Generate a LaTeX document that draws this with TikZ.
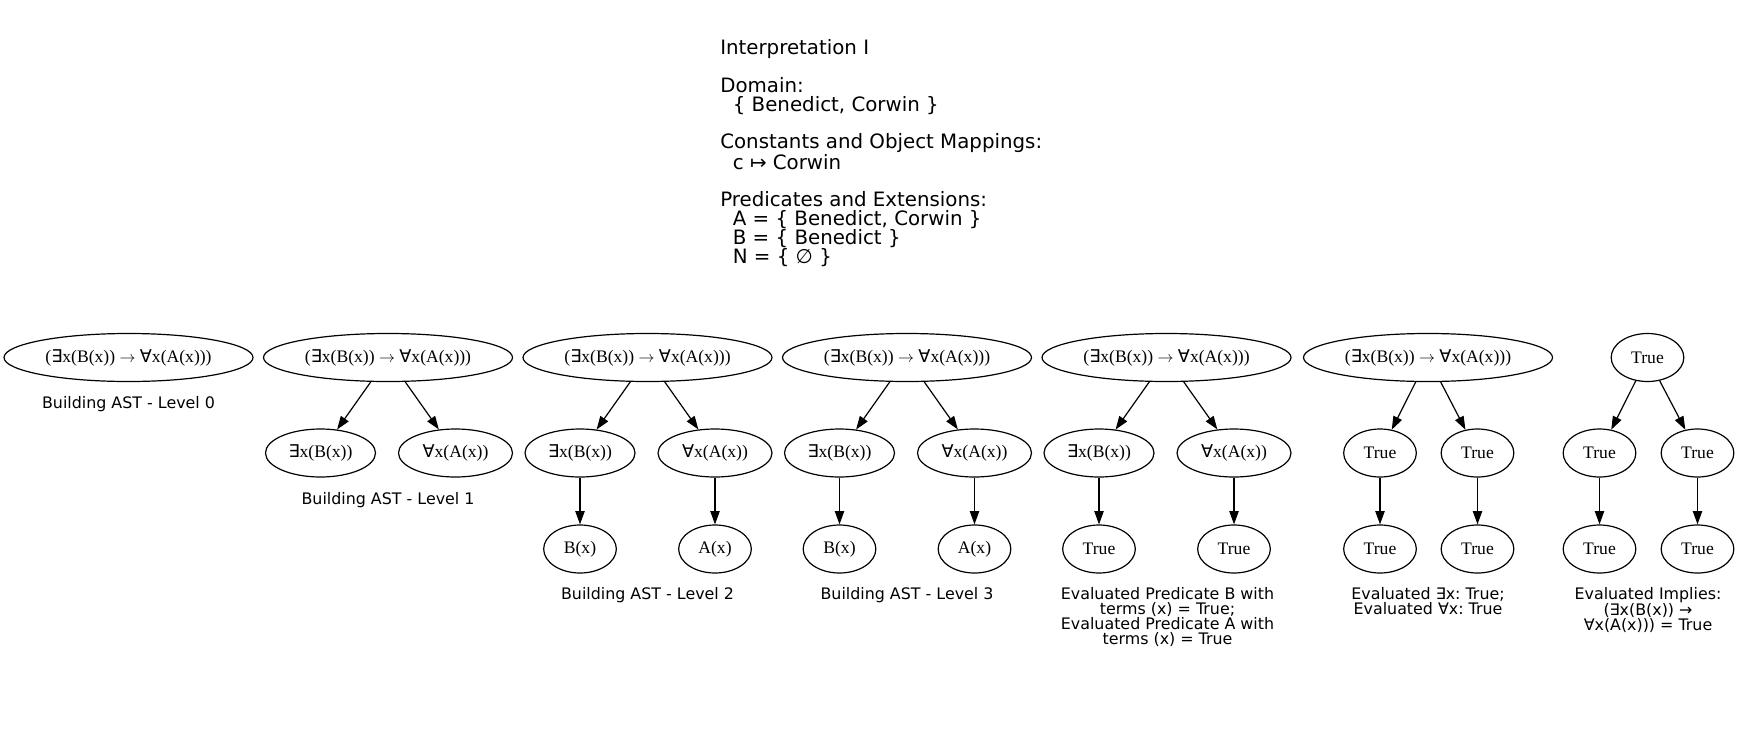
\documentclass[tikz,border=0pt]{standalone}
\usepackage{fontspec}
\setmainfont{DejaVu Sans}
\newfontfamily\astfont{Liberation Serif}
\newfontfamily\qfont{DejaVu Sans}
\usetikzlibrary{shapes.geometric,arrows.meta}
\frenchspacing
\def\Ex{{\qfont ∃}}
\def\All{{\qfont ∀}}
\def\Imp{(\Ex x(B(x)) $\rightarrow$ \All x(A(x)))}
\tikzset{
	ast/.style={ellipse, draw, line width=0.9pt, inner sep=0pt, minimum height=36pt, font=\astfont\fontsize{13.2}{15}\selectfont},
	rootbox/.style={ast, minimum width=186.75pt},
	midbox/.style={ast, minimum width=82.5pt},
	allbox/.style={ast, minimum width=85.5pt},
	leafbox/.style={ast, minimum width=54.5pt},
	lvl/.style={anchor=north, align=center, inner sep=0pt, font=\fontsize{11.9}{11.25}\selectfont},
	astarrow/.style={-{Triangle[length=10pt,width=7pt]}, line width=0.9pt}
}

\begin{document}
\begin{tikzpicture}[x=0.75pt, y=-0.75pt]
			%%%%% START %%%%%
			\useasboundingbox (0, 0) rectangle (1739, 739);
			
			\node[anchor=north west, align=left, inner sep=0pt, font=\fontsize{14.85}{14.1}\selectfont] (interp) at (720, 39.5)
			{Interpretation I\\ \\Domain:\\\ \ \{ Benedict, Corwin \}\\ \\Constants and Object Mappings:\\\ \ c ↦ Corwin\\ \\Predicates and Extensions:\\\ \ A = \{ Benedict, Corwin \}\\\ \ B = \{ Benedict \}\\\ \ N = \{ ∅ \}};
			
			% level 0
			\node[rootbox] (t0r) at (128.5, 357.5) {\Imp};
			\node[lvl] (t0lab) at (128.5, 395.7) {Building AST - Level 0};
			
			% level 1
			\node[rootbox] (t1r) at (388, 357.5) {\Imp};
			\node[midbox] (t1a) at (320.5, 453) {\Ex x(B(x))};
			\node[allbox] (t1b) at (455.5, 453) {\All x(A(x))};
			\draw[astarrow] (t1r) -- (t1a);
			\draw[astarrow] (t1r) -- (t1b);
			\node[lvl] (t1lab) at (388, 491.7) {Building AST - Level 1};
			
			% level 2
			\node[rootbox] (t2r) at (647.5, 357.5) {\Imp};
			\node[midbox] (t2a) at (580, 453) {\Ex x(B(x))};
			\node[allbox] (t2b) at (715, 453) {\All x(A(x))};
			\node[leafbox] (t2aa) at (580, 549) {B(x)};
			\node[leafbox] (t2bb) at (715, 549) {A(x)};
			\draw[astarrow] (t2r) -- (t2a);
			\draw[astarrow] (t2r) -- (t2b);
			\draw[astarrow] (t2a) -- (t2aa);
			\draw[astarrow] (t2b) -- (t2bb);
			\node[lvl] (t2lab) at (647.5, 586.7) {Building AST - Level 2};
			
			% level 3
			\node[rootbox] (t3r) at (907, 357.5) {\Imp};
			\node[midbox] (t3a) at (839.5, 453) {\Ex x(B(x))};
			\node[allbox] (t3b) at (974.5, 453) {\All x(A(x))};
			\node[leafbox] (t3aa) at (839.5, 549) {B(x)};
			\node[leafbox] (t3bb) at (974.5, 549) {A(x)};
			\draw[astarrow] (t3r) -- (t3a);
			\draw[astarrow] (t3r) -- (t3b);
			\draw[astarrow] (t3a) -- (t3aa);
			\draw[astarrow] (t3b) -- (t3bb);
			\node[lvl] (t3lab) at (907, 586.7) {Building AST - Level 3};
			
			% predicates evaluated
			\node[rootbox] (t4r) at (1166.5, 357.5) {\Imp};
			\node[midbox] (t4a) at (1099, 453) {\Ex x(B(x))};
			\node[allbox] (t4b) at (1234, 453) {\All x(A(x))};
			\node[leafbox] (t4aa) at (1099, 549) {True};
			\node[leafbox] (t4bb) at (1234, 549) {True};
			\draw[astarrow] (t4r) -- (t4a);
			\draw[astarrow] (t4r) -- (t4b);
			\draw[astarrow] (t4a) -- (t4aa);
			\draw[astarrow] (t4b) -- (t4bb);
			\node[lvl] (t4lab) at (1167.5, 586.7) {Evaluated Predicate B with\\terms (x) = True;\\Evaluated Predicate A with\\terms (x) = True};
			
			% quantifiers evaluated
			\node[rootbox] (t5r) at (1428, 357.5) {\Imp};
			\node[leafbox] (t5a) at (1380, 453) {True};
			\node[leafbox] (t5b) at (1477.5, 453) {True};
			\node[leafbox] (t5aa) at (1380, 549) {True};
			\node[leafbox] (t5bb) at (1477.5, 549) {True};
			\draw[astarrow] (t5r) -- (t5a);
			\draw[astarrow] (t5r) -- (t5b);
			\draw[astarrow] (t5a) -- (t5aa);
			\draw[astarrow] (t5b) -- (t5bb);
			\node[lvl] (t5lab) at (1428, 586.7) {Evaluated ∃x: True;\\Evaluated ∀x: True};
			
			% implies evaluated
			\node[leafbox] (t6r) at (1647.5, 357.5) {True};
			\node[leafbox] (t6a) at (1599.5, 453) {True};
			\node[leafbox] (t6b) at (1697.5, 453) {True};
			\node[leafbox] (t6aa) at (1599.5, 549) {True};
			\node[leafbox] (t6bb) at (1697.5, 549) {True};
			\draw[astarrow] (t6r) -- (t6a);
			\draw[astarrow] (t6r) -- (t6b);
			\draw[astarrow] (t6a) -- (t6aa);
			\draw[astarrow] (t6b) -- (t6bb);
			\node[lvl] (t6lab) at (1648, 586.7) {Evaluated Implies:\\(∃x(B(x)) →\\∀x(A(x))) = True};
			
			%%%%% END %%%%%
\end{tikzpicture}
\end{document}
